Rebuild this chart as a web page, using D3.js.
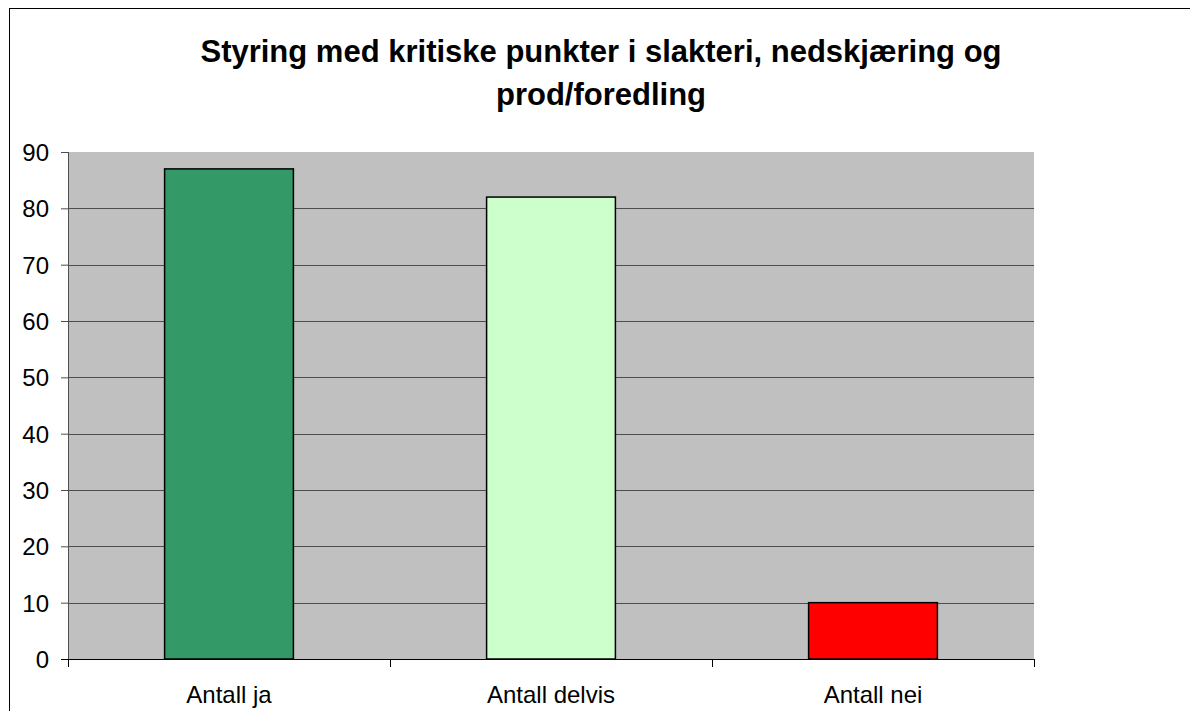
<!DOCTYPE html>
<html>
<head>
<meta charset="utf-8">
<script src="https://cdn.jsdelivr.net/npm/d3@7"></script>
<style>
  body { margin: 0; background: #fff; }
  svg { display: block; font-family: "Liberation Sans", Arial, sans-serif; }
</style>
</head>
<body>
<div id="chart"></div>
<script>
const categories = ["Antall ja", "Antall delvis", "Antall nei"];
const values = [87, 82, 10];
const barColors = ["#339966", "#CCFFCC", "#FF0000"];
const yTicks = [0, 10, 20, 30, 40, 50, 60, 70, 80, 90];
const titleLines = ["Styring med kritiske punkter i slakteri, nedskjæring og", "prod/foredling"];

const W = 1190, H = 711;
const margin = { top: 152, right: 156, bottom: 52, left: 68 };
const width = W - margin.left - margin.right;
const height = H - margin.top - margin.bottom;

const svg = d3.select("#chart").append("svg")
  .attr("width", W)
  .attr("height", H);

// ramme rundt diagrammet
svg.append("rect")
  .attr("x", 9.5).attr("y", 8.5)
  .attr("width", W + 20).attr("height", H + 20)
  .attr("fill", "none")
  .attr("stroke", "#000")
  .attr("stroke-width", 1);

// tittel
svg.append("text")
  .attr("x", 601)
  .attr("y", 62)
  .attr("text-anchor", "middle")
  .style("font-size", "31px")
  .style("font-weight", "bold")
  .selectAll("tspan")
  .data(titleLines)
  .join("tspan")
  .attr("x", 601)
  .attr("dy", (d, i) => i === 0 ? 0 : 43)
  .text(d => d);

const g = svg.append("g")
  .attr("transform", `translate(${margin.left},${margin.top})`);

const x = d3.scaleBand().domain(categories).range([0, width]).paddingInner(0.6).paddingOuter(0.3);
const y = d3.scaleLinear().domain([0, 90]).range([height, 0]);

// plottområde
g.append("rect")
  .attr("width", width)
  .attr("height", height)
  .attr("fill", "#C0C0C0");

// rutenett
g.append("g")
  .selectAll("line")
  .data(yTicks.filter(d => d > 0 && d < 90))
  .join("line")
  .attr("x1", 0).attr("x2", width)
  .attr("y1", d => Math.round(y(d)) + 0.5)
  .attr("y2", d => Math.round(y(d)) + 0.5)
  .attr("stroke", "#4d4d4d")
  .attr("stroke-width", 1);

// søyler
g.selectAll("rect.bar")
  .data(values)
  .join("rect")
  .attr("class", "bar")
  .attr("x", (d, i) => x(categories[i]))
  .attr("y", d => y(d))
  .attr("width", x.bandwidth())
  .attr("height", d => height - y(d))
  .attr("fill", (d, i) => barColors[i])
  .attr("stroke", "#000")
  .attr("stroke-width", 1.5);

// y-akse
const yAxis = g.append("g")
  .call(d3.axisLeft(y).tickValues(yTicks).tickSize(7).tickPadding(12));
yAxis.select(".domain").attr("stroke", "#4d4d4d").attr("d", `M0.5,0V${height}`);
yAxis.selectAll(".tick line").attr("stroke", "#4d4d4d");
yAxis.selectAll("text")
  .style("font-size", "24px")
  .style("font-family", "'Liberation Sans', Arial, sans-serif")
  .attr("fill", "#000")
  .attr("dy", "0.35em");

// x-akse
const xOuter = d3.scaleLinear().domain([0, 3]).range([0, width]);
const xAxis = g.append("g")
  .attr("transform", `translate(0,${height})`);
xAxis.append("line")
  .attr("x1", -7).attr("x2", width)
  .attr("y1", 0.5).attr("y2", 0.5)
  .attr("stroke", "#000");
xAxis.selectAll("line.tick")
  .data([0, 1, 2, 3])
  .join("line")
  .attr("class", "tick")
  .attr("x1", d => Math.round(xOuter(d)) + 0.5)
  .attr("x2", d => Math.round(xOuter(d)) + 0.5)
  .attr("y1", 0).attr("y2", 8)
  .attr("stroke", "#000");
xAxis.selectAll("text")
  .data(categories)
  .join("text")
  .attr("x", d => x(d) + x.bandwidth() / 2)
  .attr("y", 44)
  .attr("text-anchor", "middle")
  .style("font-size", "24px")
  .text(d => d);
</script>
</body>
</html>
